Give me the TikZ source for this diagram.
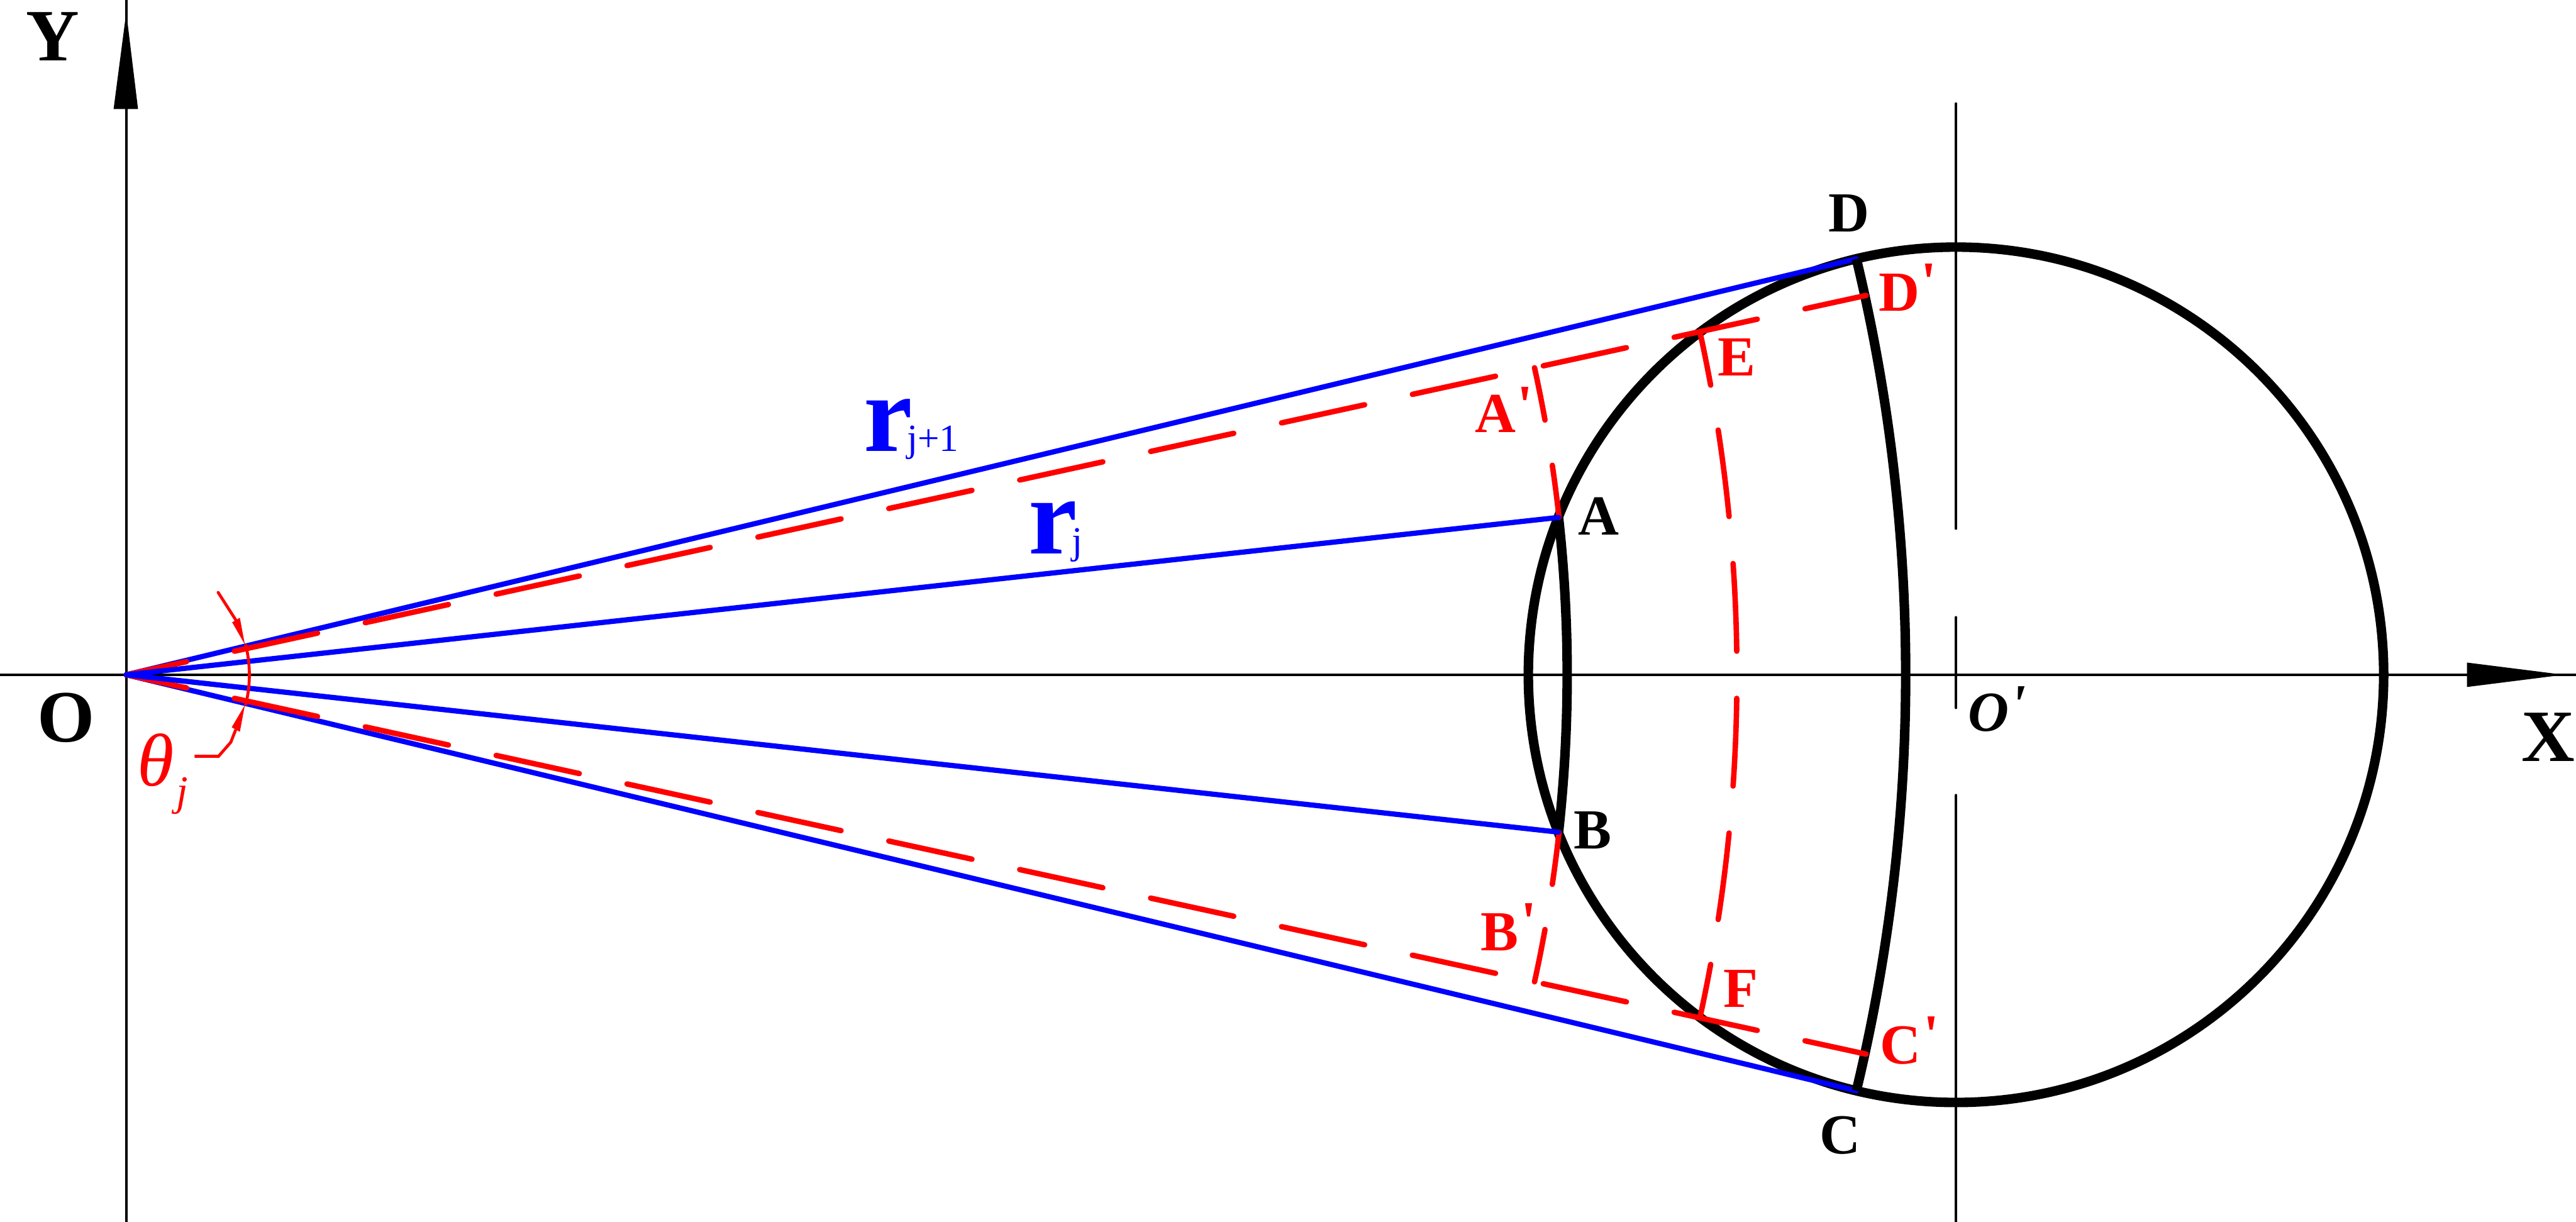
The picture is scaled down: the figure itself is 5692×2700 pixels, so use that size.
\documentclass[tikz,border=0pt]{standalone}
\usepackage{fontspec}
\newfontfamily\lab{Liberation Serif}
\usetikzlibrary{calc}
\newcommand{\prm}[2]{\rlap{\smash{\kern#1\raisebox{#2}{'}}}}
\newcommand{\radarc}[3]{(O) ++({#2}:#1) arc[start angle={#2},end angle={#3},radius=#1*0.2pt]}
\tikzset{
  axisline/.style={black,line width=1.15pt,line cap=round},
  bigarc/.style={black,line width=4.2pt,line join=round},
  blueline/.style={blue,line width=2.3pt,line cap=round},
  redline/.style={red,line width=2.4pt,line cap=round},
  thinred/.style={red,line width=1.3pt,line join=miter},
  reddash/.style={redline,dash pattern=on 37.6pt off 21.6pt,dash phase=10.3pt},
  blk/.style={black,inner sep=0pt,font=\lab\bfseries\fontsize{25}{25}\selectfont},
  big/.style={black,inner sep=0pt,font=\lab\bfseries\fontsize{32.6}{33}\selectfont},
  redlab/.style={red,inner sep=0pt,font=\lab\bfseries\fontsize{25}{25}\selectfont},
  rlab/.style={blue,inner sep=0pt,anchor=base west,font=\lab\bfseries\fontsize{48.6}{49}\selectfont},
}
\newcommand{\subt}[1]{{\kern-2.5pt\mdseries\fontsize{17}{17}\selectfont #1}}
\begin{document}
\begin{tikzpicture}[x=0.2pt,y=0.2pt]
\useasboundingbox (0,0) rectangle (5692,2700);
\coordinate (O) at (279,1209);
\coordinate (Oc) at (4322,1209);
\coordinate (Xs) at (0,1209);
\coordinate (Xe) at (5691,1209);
\coordinate (Ys) at (279,0);
\coordinate (Ye) at (279,2700);
\coordinate (D) at ($(O)+(13.52:3932)$);
\coordinate (C) at ($(O)+(-13.52:3932)$);
\coordinate (A) at ($(O)+(6.27:3184)$);
\coordinate (B) at ($(O)+(-6.27:3184)$);
\coordinate (Dp) at ($(O)+(12.3:3935)$);
\coordinate (Cp) at ($(O)+(-12.3:3935)$);
% axes
\draw[axisline] (Xs) -- (Xe);
\draw[axisline] (Ys) -- (Ye);
\fill[black] (5665,1209) -- (5451,1236) -- (5451,1182) -- cycle;
\fill[black] (279,2673) -- (251,2459) -- (305,2459) -- cycle;
% centre line through O'
\draw[axisline] (4322,2471) -- (4322,1532);
\draw[axisline] (4322,1336) -- (4322,1136);
\draw[axisline] (4322,943) -- (4322,0);
% circle and outer rays
\draw[bigarc] (Oc) circle[radius=945*0.2pt];
\draw[blueline] (O) -- (D);
\draw[blueline] (O) -- (C);
\draw[bigarc] \radarc{3932}{13.52}{-13.52};
\draw[bigarc] \radarc{3184}{6.27}{-6.27};
% red displaced contour
\draw[reddash] (O) -- (Dp);
\draw[reddash] (O) -- (Cp);
\foreach \s in {1,-1}{
  \draw[redline] \radarc{3185}{\s*12.3}{\s*10.18};
  \draw[redline] \radarc{3185}{\s*8.36}{\s*6.27};
  \draw[redline] \radarc{3559}{\s*12.3}{\s*10.36};
  \draw[redline] \radarc{3559}{\s*8.74}{\s*5.64};
  \draw[redline] \radarc{3559}{\s*3.96}{\s*0.84};
}
% inner rays
\draw[blueline] (O) -- (A);
\draw[blueline] (O) -- (B);
% angle mark
\draw[thinred] \radarc{272}{14.3}{-14.3};
\coordinate (tipU) at (541,1276);
\coordinate (tipL) at (541,1142);
\fill[red] (tipU) -- (530,1335) -- (513,1325) -- cycle;
\fill[red] (tipL) -- (530,1083) -- (512,1093) -- cycle;
\draw[thinred,line cap=round] (482,1391) -- (521,1330);
\draw[thinred] (521,1088) -- (510,1060) -- (483,1029) -- (430,1029);
% labels
\node[big] (lY) at (117,2619) {Y};
\node[big] (lX) at (5630,1071) {X};
\node[big] (lO) at (146,1114) {O};
\node[blk] (lA) at (3533,1560) {A};
\node[blk] (lB) at (3519,865) {B};
\node[blk] (lC) at (4066,192) {C};
\node[blk] (lD) at (4086,2228) {D};
\node[redlab] (lAp) at (3305,1786) {A\prm{0.5pt}{3.5pt}};
\node[redlab] (lBp) at (3314,640) {B\prm{1pt}{4.5pt}};
\node[redlab] (lCp) at (4200,390) {C\prm{1pt}{4.5pt}};
\node[redlab] (lDp) at (4197,2054) {D\prm{0.5pt}{4.5pt}};
\node[redlab] (lE) at (3837,1910) {E};
\node[redlab] (lF) at (3846,515) {F};
\node[black,inner sep=0pt,font=\lab\bfseries\itshape\fontsize{25}{25}\selectfont] (lOc) at (4394,1125) {O\prm{0.5pt}{3.5pt}};
\node[rlab] (rj1) at (1908,1703) {r\subt{j+1}};
\node[rlab] (rj) at (2272,1477) {r\subt{j}};
\node[red,inner sep=0pt,anchor=base west,font=\lab\itshape\fontsize{33}{33}\selectfont] (lth) at (303,964) {θ\kern1pt\raisebox{-8.6pt}{\fontsize{18.6}{19}\selectfont j}};
\end{tikzpicture}
\end{document}
